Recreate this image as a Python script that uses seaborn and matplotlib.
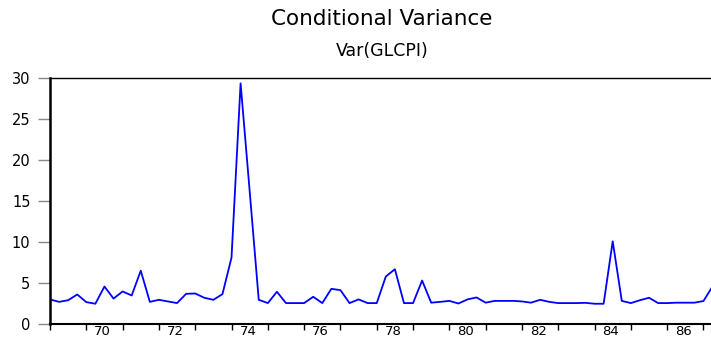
import numpy as np
import pandas as pd
import matplotlib
matplotlib.use("Agg")
import matplotlib.pyplot as plt
import seaborn as sns

# Varianza condicional trimestral, 1969Q1 - 1987Q2
anio_inicio = 1969
var_glcpi = [3.0, 2.7, 2.9, 3.6, 2.67, 2.47, 4.57, 3.1, 3.97, 3.48,
             6.5, 2.7, 2.95, 2.75, 2.55, 3.68, 3.72, 3.2, 2.95, 3.64,
             8.1, 29.35, 16.2, 2.95, 2.55, 3.93, 2.55, 2.55, 2.55, 3.32,
             2.55, 4.29, 4.13, 2.55, 3.0, 2.55, 2.55, 5.79, 6.68, 2.55,
             2.55, 5.3, 2.6, 2.7, 2.82, 2.5, 3.0, 3.24, 2.6, 2.82,
             2.82, 2.82, 2.75, 2.6, 2.95, 2.7, 2.55, 2.55, 2.55, 2.58,
             2.47, 2.47, 10.08, 2.82, 2.55, 2.9, 3.2, 2.55, 2.55, 2.6,
             2.6, 2.6, 2.8, 4.6]

anios_etiqueta = [70, 72, 74, 76, 78, 80, 82, 84, 86]
y_ticks = [0, 5, 10, 15, 20, 25, 30]

datos = pd.DataFrame({
    "fecha": anio_inicio + np.arange(len(var_glcpi)) / 4,
    "var": var_glcpi,
})

sns.set_style("white")
plt.rcParams["font.family"] = ["DejaVu Sans"]
plt.rcParams["text.color"] = "black"
plt.rcParams["xtick.labelcolor"] = "black"
plt.rcParams["ytick.labelcolor"] = "black"

fig = plt.figure(figsize=(7.11, 3.41), dpi=100)
ax = fig.add_axes([50 / 711, 17 / 341, 664 / 711, 246 / 341])

sns.lineplot(data=datos, x="fecha", y="var", color="#0000ff", linewidth=1.3, ax=ax)

ax.set_xlim(1969.0, 1987.29)
ax.set_ylim(0, 30)

# ticks de anio sin etiqueta, etiquetas centradas en el anio
ax.set_xticks(np.arange(1969, 1988))
ax.set_xticklabels([])
ax.set_xticks([1900 + a + 0.45 for a in anios_etiqueta], minor=True)
ax.set_xticklabels([str(a) for a in anios_etiqueta], minor=True)
ax.tick_params(axis="x", which="major", direction="out", length=4, width=1, color="black", bottom=True)
ax.tick_params(axis="x", which="minor", length=0, pad=0.5, labelsize=9.5, bottom=True)

ax.set_yticks(y_ticks)
ax.set_yticklabels([str(v) for v in y_ticks])
ax.tick_params(axis="y", direction="out", length=9, width=1, color="#888888", labelsize=10.5, pad=5, left=True)

ax.set_xlabel("")
ax.set_ylabel("")

ax.spines["left"].set_linewidth(1.8)
ax.spines["bottom"].set_linewidth(1.5)
ax.spines["top"].set_linewidth(1.0)
for s in ["left", "bottom", "top"]:
    ax.spines[s].set_color("black")
ax.spines["right"].set_visible(False)

fig.text(382 / 711, 1 - 19 / 341, "Conditional Variance", ha="center", va="center", fontsize=15.5, color="black")
fig.text(382 / 711, 1 - 51 / 341, "Var(GLCPI)", ha="center", va="center", fontsize=12.5, color="black")

fig.savefig("out.png", dpi=100)
plt.close()
